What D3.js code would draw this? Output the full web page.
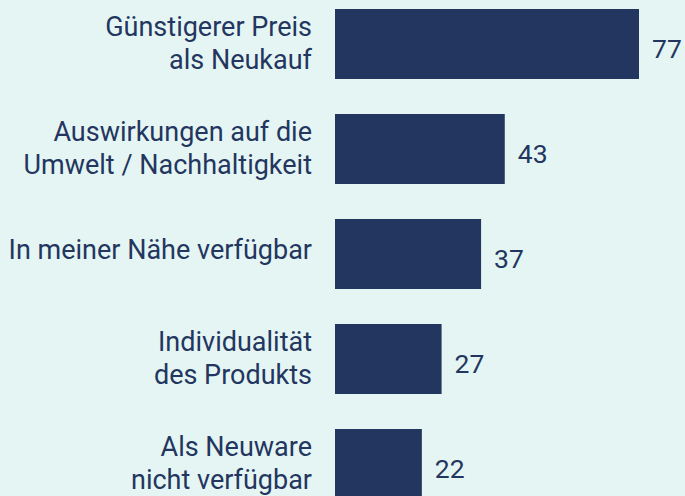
<!DOCTYPE html>
<html>
<head>
<meta charset="utf-8">
<script src="https://cdn.jsdelivr.net/npm/d3@7"></script>
<style>
  html, body { margin: 0; padding: 0; background: #e5f5f3; }
  svg { display: block; }
</style>
</head>
<body>
<svg id="chart" width="685" height="496"></svg>
<script>
const categories = [
  ["Günstigerer Preis", "als Neukauf"],
  ["Auswirkungen auf die", "Umwelt / Nachhaltigkeit"],
  ["In meiner Nähe verfügbar"],
  ["Individualität", "des Produkts"],
  ["Als Neuware", "nicht verfügbar"]
];
const values = [77, 43, 37, 27, 22];

const W = 685, H = 496;
const barColor = "#233660";
const textColor = "#233660";
const svg = d3.select("#chart");
svg.append("rect").attr("width", W).attr("height", H).attr("fill", "#e5f5f3");

const ids = categories.map((c, i) => i);
const y = d3.scaleBand().domain(ids).range([9, 499]).paddingInner(1/3).paddingOuter(0);
const x = d3.scaleLinear().domain([0, 77]).range([335, 639]);

svg.selectAll("rect.bar").data(values).enter().append("rect")
  .attr("class", "bar")
  .attr("x", x(0))
  .attr("y", (d, i) => y(i))
  .attr("width", d => x(d) - x(0))
  .attr("height", y.bandwidth())
  .attr("fill", barColor);

svg.selectAll("text.val").data(values).enter().append("text")
  .attr("class", "val")
  .attr("x", d => x(d) + 13)
  .attr("y", (d, i) => y(i) + y.bandwidth() / 2 + 14)
  .attr("font-family", "Roboto, sans-serif")
  .attr("font-size", 26.5)
  .attr("fill", textColor)
  .text(d => d);

const lineH = 33;
const labels = svg.selectAll("text.lab").data(categories).enter().append("text")
  .attr("class", "lab")
  .attr("text-anchor", "end")
  .attr("font-family", "Roboto, sans-serif")
  .attr("font-size", 27)
  .attr("fill", textColor)
  .attr("transform", (d, i) => {
    const c = y(i) + y.bandwidth() / 2;
    const first = c - (d.length - 1) * lineH / 2 + (d.length > 1 ? 8 : 5);
    return `translate(312,${first})`;
  });
labels.selectAll("tspan").data(d => d).enter().append("tspan")
  .attr("x", 0)
  .attr("y", (d, j) => j * lineH)
  .text(d => d);
</script>
</body>
</html>
